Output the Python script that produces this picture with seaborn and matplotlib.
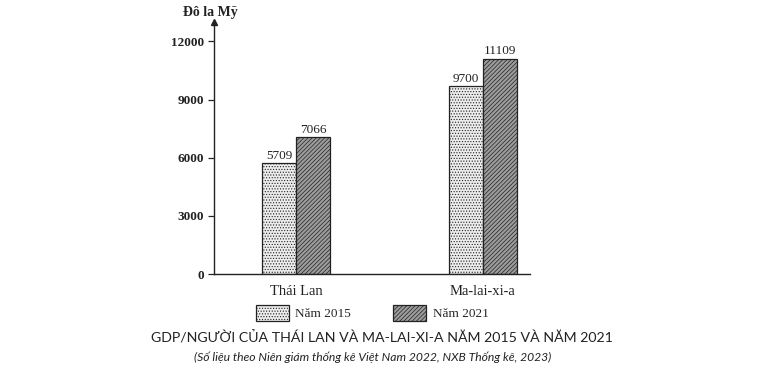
import matplotlib

matplotlib.use("Agg")
import matplotlib.pyplot as plt
import pandas as pd
import seaborn as sns

countries = ["Thái Lan", "Ma-lai-xi-a"]
years = ["Năm 2015", "Năm 2021"]
gdp_2015 = [5709, 9700]
gdp_2021 = [7066, 11109]
y_ticks = [0, 3000, 6000, 9000, 12000]

unit_label = "Đô la Mỹ"
title = "GDP/NGƯỜI CỦA THÁI LAN VÀ MA-LAI-XI-A NĂM 2015 VÀ NĂM 2021"
source = "(Số liệu theo Niên giám thống kê Việt Nam 2022, NXB Thống kê, 2023)"


def build_frame() -> pd.DataFrame:
    rows = []
    for year, values in zip(years, [gdp_2015, gdp_2021]):
        for country, value in zip(countries, values):
            rows.append({"country": country, "year": year, "gdp": value})
    return pd.DataFrame(rows)


def plot() -> None:
    sns.set_theme(style="white")
    plt.rcParams["font.family"] = ["Liberation Serif", "DejaVu Serif"]
    plt.rcParams["hatch.linewidth"] = 0.5

    df = build_frame()
    fig = plt.figure(figsize=(7.61, 3.78), dpi=100)
    ax = fig.add_axes([0.281, 0.275, 0.415, 0.667])

    sns.barplot(
        data=df, x="country", y="gdp", hue="year", order=countries, hue_order=years,
        palette=["#ececec", "#9c9c9c"], width=0.36, edgecolor="#222222", linewidth=0.9,
        legend=False, ax=ax,
    )

    # dotted fill for 2015, fine diagonal lines for 2021
    for container, hatch in zip(ax.containers, ["......", "////////"]):
        for bar in container:
            bar.set_hatch(hatch)
        ax.bar_label(container, fmt="%d", padding=1, fontsize=9.5, color="#222222")

    ax.set_xlim(-0.44, 1.25)
    ax.set_ylim(0, 13000)
    ax.set_yticks(y_ticks)
    ax.set_yticklabels([str(t) for t in y_ticks], fontsize=9.5, fontweight="bold", color="#222222")
    ax.set_xticks(range(len(countries)))
    ax.set_xticklabels(countries, fontsize=10.5, color="#222222")
    ax.set_xlabel("")
    ax.set_ylabel("")
    ax.tick_params(axis="y", left=True, length=4, width=0.9, pad=3)
    ax.tick_params(axis="x", bottom=False, pad=2)

    for side in ["top", "right"]:
        ax.spines[side].set_visible(False)
    for side in ["left", "bottom"]:
        ax.spines[side].set_color("#222222")
        ax.spines[side].set_linewidth(1.0)
    ax.plot(0, 1, marker="^", markersize=5, color="#222222", transform=ax.transAxes, clip_on=False)

    fig.text(0.276, 0.966, unit_label, ha="center", va="center",
             fontsize=10, fontweight="bold", color="#222222")

    fig.legend(ax.containers, years, loc="center", bbox_to_anchor=(0.489, 0.172), ncol=2,
               frameon=False, fontsize=9.5, handlelength=2.5, handleheight=1.4,
               columnspacing=3.2, handletextpad=0.5)

    fig.text(0.502, 0.107, title, ha="center", va="center", fontsize=10.2,
             family=["Lato", "DejaVu Sans"], color="#222222")
    fig.text(0.49, 0.056, source, ha="center", va="center", fontsize=8.7, style="italic",
             family=["Lato", "DejaVu Sans"], color="#222222")

    fig.savefig("out.png", dpi=100, facecolor="white")
    plt.close(fig)


if __name__ == "__main__":
    plot()
